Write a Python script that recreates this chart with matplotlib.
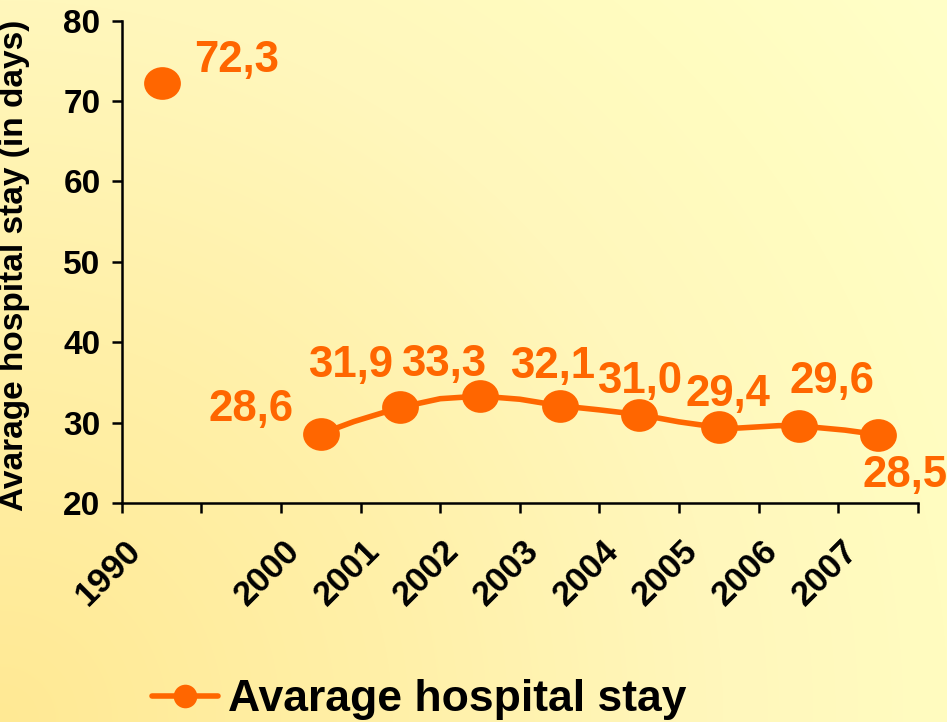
import numpy as np
import matplotlib
matplotlib.use("Agg")
import matplotlib.pyplot as plt
from matplotlib.path import Path
from matplotlib.transforms import Affine2D, ScaledTranslation
from matplotlib.lines import Line2D

# ---------------- data ----------------
categories = ["1990", "", "2000", "2001", "2002", "2003", "2004", "2005", "2006", "2007"]
years = ["1990", "2000", "2001", "2002", "2003", "2004", "2005", "2006", "2007"]
stay = [72.3, 28.6, 31.9, 33.3, 32.1, 31.0, 29.4, 29.6, 28.5]
value_labels = ["72,3", "28,6", "31,9", "33,3", "32,1", "31,0", "29,4", "29,6", "28,5"]
series_name = "Avarage hospital stay"
y_label = "Avarage hospital stay (in days)"

# label offsets (pixels) from each marker
label_offsets = [(75, 22), (-70, 24), (-50, 42), (-36, 32), (-7, 39),
                 (0, 33), (9, 33), (33, 44), (27, -41)]

ORANGE = "#FF6600"
plt.rcParams["font.family"] = ["Liberation Sans", "DejaVu Sans"]
plt.rcParams["font.weight"] = "bold"

W, H = 947, 722
fig = plt.figure(figsize=(W / 100, H / 100), dpi=100)

# ---------------- background gradient ----------------
bg = fig.add_axes([0, 0, 1, 1], zorder=-10)
yy, xx = np.mgrid[0:H, 0:W]
d = np.sqrt(xx ** 2 + (H - yy) ** 2)
G = np.interp(d, [0, 392, 722, 947, 1190], [233, 240, 247, 252, 255])
B = np.interp(d, [0, 392, 722, 947, 1190], [148, 168, 188, 192, 200])
img = np.dstack([np.full_like(G, 255), G, B]) / 255.0
bg.imshow(img, aspect="auto", extent=[0, 1, 0, 1], origin="upper")
bg.set_axis_off()

# ---------------- main axes ----------------
left, right = 121.7 / W, 918 / W
bottom, top = (H - 503) / H, (H - 20.7) / H
ax = fig.add_axes([left, bottom, right - left, top - bottom])
ax.patch.set_alpha(0)

xpos = {c: i for i, c in enumerate(categories) if c}
x = np.array([xpos[yv] for yv in years], dtype=float)
y = np.array(stay, dtype=float)

# smoothed line (Catmull-Rom bezier) for 2000-2007
xs, ys = x[1:], y[1:]
pts = np.column_stack([xs, ys])
verts = [pts[0]]
codes = [Path.MOVETO]
n = len(pts)
for i in range(n - 1):
    p0 = pts[i - 1] if i > 0 else pts[i]
    p1 = pts[i]
    p2 = pts[i + 1]
    p3 = pts[i + 2] if i + 2 < n else pts[i + 1]
    c1 = p1 + (p2 - p0) / 6.0
    c2 = p2 - (p3 - p1) / 6.0
    verts += [c1, c2, p2]
    codes += [Path.CURVE4] * 3
path = Path(verts, codes)
curve = np.vstack([seg for seg in path.to_polygons(closed_only=False)])
ax.plot(curve[:, 0], curve[:, 1], color=ORANGE, lw=4.0, solid_capstyle="round", zorder=2)

ell = Path.unit_circle().transformed(Affine2D().scale(1.125, 1.0))
ax.plot(x, y, linestyle="none", marker=ell, markersize=26.5, color=ORANGE,
        markeredgewidth=0, zorder=3)

for xi, yi, lab, (dx, dy) in zip(x, y, value_labels, label_offsets):
    ax.annotate(lab, (xi, yi), xytext=(dx, dy), textcoords="offset pixels",
                ha="center", va="center", fontsize=31.5, fontweight="bold",
                color=ORANGE, zorder=4)

ax.set_xlim(-0.5, len(categories) - 0.5)
ax.set_ylim(20, 80)
ax.set_yticks(np.arange(20, 81, 10))
ax.spines["top"].set_visible(False)
ax.spines["right"].set_visible(False)
for s in ("left", "bottom"):
    ax.spines[s].set_linewidth(1.8)
    ax.spines[s].set_color("black")

ax.tick_params(axis="y", direction="out", length=7.2, width=1.8, pad=8,
               labelsize=24)
ax.set_xticks(np.arange(len(categories)))
ax.set_xticklabels(categories, rotation=45, ha="right", va="center",
                   rotation_mode="anchor", fontsize=25, fontweight="bold")
ax.set_xticks(np.arange(len(categories) + 1) - 0.5, minor=True)
ax.tick_params(axis="x", which="major", length=0, pad=31)
ax.tick_params(axis="x", which="minor", direction="out", length=7.2, width=1.8)
shift = ScaledTranslation(-26 / 100, 0, fig.dpi_scale_trans)
for lbl in ax.get_xticklabels():
    lbl.set_transform(lbl.get_transform() + shift)
for lbl in ax.get_yticklabels():
    lbl.set_fontweight("bold")

ax.set_ylabel(y_label, fontsize=24, fontweight="bold")
ax.yaxis.set_label_coords(30 / W, (H - 265) / H, transform=fig.transFigure)

# ---------------- legend ----------------
handle = Line2D([], [], color=ORANGE, lw=4.0, marker="o", markersize=17,
                markeredgewidth=0, solid_capstyle="round")
fig.legend(handles=[handle], labels=[series_name], loc="center left",
           bbox_to_anchor=(152 / W, (H - 700) / H), frameon=False,
           borderpad=0, borderaxespad=0, handlelength=1.48, handletextpad=0.23,
           prop={"size": 32, "weight": "bold"})

fig.savefig("out.png", dpi=100)
